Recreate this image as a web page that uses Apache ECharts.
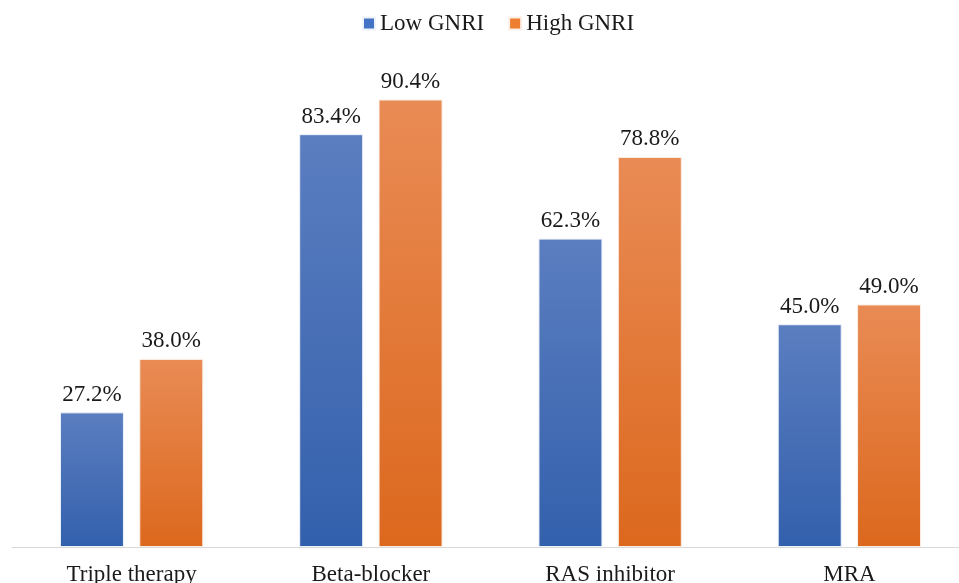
<!DOCTYPE html>
<html>
<head>
<meta charset="utf-8">
<script src="https://cdn.jsdelivr.net/npm/echarts@6/dist/echarts.min.js"></script>
<style>
  html, body { margin: 0; padding: 0; background: #ffffff; }
  #chart { width: 959px; height: 583px; }
</style>
</head>
<body>
<div id="chart"></div>
<script>
// Medication use by GNRI group (%)
const categories = ['Triple therapy', 'Beta-blocker', 'RAS inhibitor', 'MRA'];
const lowGNRI = [27.2, 83.4, 62.3, 45.0];
const highGNRI = [38.0, 90.4, 78.8, 49.0];
const seriesNames = ['Low GNRI', 'High GNRI'];

const FONT = '"Liberation Serif", "Times New Roman", serif';

function vGrad(top, bottom) {
  return new echarts.graphic.LinearGradient(0, 0, 0, 1, [
    { offset: 0, color: top },
    { offset: 1, color: bottom }
  ]);
}

const labelStyle = {
  show: true,
  position: 'top',
  distance: 6,
  fontFamily: FONT,
  fontSize: 23,
  color: '#1a1a1a',
  formatter: p => p.value.toFixed(1) + '%'
};

const chart = echarts.init(document.getElementById('chart'), null, { renderer: 'canvas' });
chart.setOption({
  animation: false,
  backgroundColor: '#ffffff',
  legend: {
    top: 7,
    left: 357,
    itemWidth: 12,
    itemHeight: 12,
    itemGap: 24,
    icon: 'rect',
    textStyle: { fontFamily: FONT, fontSize: 23, color: '#1a1a1a' },
    data: [
      { name: seriesNames[0], itemStyle: { color: '#4472c4' } },
      { name: seriesNames[1], itemStyle: { color: '#ed7d31' } }
    ]
  },
  grid: { left: 12, top: 52, width: 957, height: 495, containLabel: false, outerBoundsMode: 'none' },
  xAxis: {
    type: 'category',
    data: categories,
    axisTick: { show: false },
    axisLine: { lineStyle: { color: '#d9d9d9', width: 1 } },
    axisLabel: { fontFamily: FONT, fontSize: 23, color: '#1a1a1a', margin: 16 }
  },
  yAxis: {
    type: 'value',
    min: 0,
    max: 100,
    show: false,
    splitLine: { show: false }
  },
  series: [
    {
      name: seriesNames[0],
      type: 'bar',
      data: lowGNRI,
      barWidth: 64,
      barGap: '24%',
      itemStyle: { color: vGrad('#5b7ec0', '#3360ac'), borderColor: '#eef2fa', borderWidth: 1 },
      label: labelStyle
    },
    {
      name: seriesNames[1],
      type: 'bar',
      data: highGNRI,
      barWidth: 64,
      itemStyle: { color: vGrad('#e98b55', '#dc681d'), borderColor: '#fbeee5', borderWidth: 1 },
      label: labelStyle
    }
  ]
});
</script>
</body>
</html>
